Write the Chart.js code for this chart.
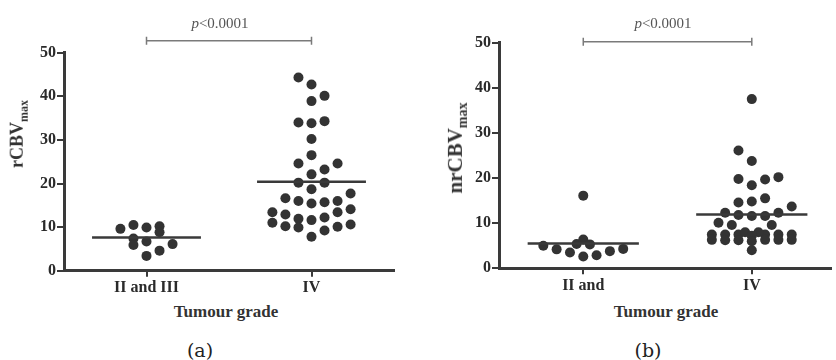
<!DOCTYPE html>
<html>
<head>
<meta charset="utf-8">
<script src="https://cdn.jsdelivr.net/npm/chart.js@4.4.1/dist/chart.umd.min.js"></script>
<style>
  body { margin: 0; background: #fff; width: 836px; height: 360px; overflow: hidden; position: relative; font-family: "Liberation Serif", serif; }
  .panel { position: absolute; top: 0; }
  .lbl { position: absolute; white-space: nowrap; transform: translate(-50%, -50%); color: #333; }
  .ytitle { font-weight: bold; font-size: 18px; transform: translate(-50%, -50%) rotate(-90deg); }
  .ytitle sub { font-size: 12px; }
  .xtitle { font-weight: bold; font-size: 17px; }
  .pval { font-size: 15px; color: #555; }
  .cap { font-family: "DejaVu Serif", serif; font-size: 19px; color: #222; }
</style>
</head>
<body>
<div class="panel" style="left:0"><canvas id="chartA" width="418" height="300"></canvas></div>
<div class="panel" style="left:420px"><canvas id="chartB" width="416" height="300"></canvas></div>

<div class="lbl ytitle" style="left:19px;top:134px">rCBV<sub>max</sub></div>
<div class="lbl ytitle" style="left:457px;top:148px;font-size:21px">nrCBV<sub style="font-size:14px">max</sub></div>
<div class="lbl pval" style="left:220px;top:23px"><i>p</i>&lt;0.0001</div>
<div class="lbl pval" style="left:663px;top:23px"><i>p</i>&lt;0.0001</div>
<div class="lbl xtitle" style="left:226px;top:312px">Tumour grade</div>
<div class="lbl xtitle" style="left:666px;top:312px">Tumour grade</div>
<div class="lbl cap" style="left:200px;top:350px">(a)</div>
<div class="lbl cap" style="left:648px;top:350px">(b)</div>

<script>
// values; *Col = swarm column of each dot
const gradesA = ["II and III", "IV"];
const gradesB = ["II and", "IV"];
const yTicks = [0, 10, 20, 30, 40, 50];

const rcbvLow = [9.6, 10.5, 9.9, 10.2, 8.8, 7.4, 5.9, 6.7, 6.1, 3.4, 4.6];
const rcbvLowCol = [-2, -1, 0, 1, 1, -1, -1, 0, 2, 0, 1];
const rcbvHigh = [44.3, 42.7, 40.1, 38.9, 34.0, 33.8, 34.3, 30.2, 26.5, 24.6, 24.6, 23.2,
    22.1, 20.2, 20.2, 18.7, 16.6, 16.0, 15.4, 15.7, 16.0, 17.7, 13.4, 12.9,
    11.9, 11.6, 12.2, 13.4, 14.1, 11.0, 10.2, 9.9, 7.8, 9.2, 10.1, 10.6];
const rcbvHighCol = [-1, 0, 1, 0, -1, 0, 1, 0, 0, -1, 2, 1,
    0, -1, 1, 0, -2, -1, 0, 1, 2, 3, -3, -2,
    -1, 0, 1, 2, 3, -3, -2, -1, 0, 1, 2, 3];
const rcbvMeans = [7.6, 20.4];

const nrcbvLow = [5.0, 4.2, 3.5, 2.6, 2.9, 3.8, 4.3, 5.4, 6.4, 5.3, 16.1];
const nrcbvLowCol = [-3, -2, -1, 0, 1, 2, 3, -0.5, 0, 0.5, 0];
const nrcbvHigh = [37.5, 26.1, 23.8, 19.8, 18.4, 19.7, 20.2, 14.6, 14.8, 15.5, 13.7, 12.3,
    11.8, 11.6, 11.6, 12.3, 10.1, 9.6, 9.6, 7.5, 6.3, 7.5, 6.2, 7.5,
    6.2, 7.5, 6.3, 7.5, 6.3, 7.5, 6.3, 8.0, 8.0, 7.2, 6.0, 4.0];
const nrcbvHighCol = [0, -1, 0, -1, 0, 1, 2, -1, 0, 1, 3, -2,
    -1, 0, 1, 2, -2.5, -1.5, 1.5, -3, -3, -2, -2, -1,
    -1, 1, 1, 2, 2, 3, 3, -0.5, 0.5, 0, 0, 0];
const nrcbvMeans = [5.5, 11.9];

const DOT = "#333";
const AXIS = "#3a3a3a";
const SLOT = 0.079;
const HALF = 0.33;
const tickFont = { family: "'Liberation Serif', serif", weight: "bold", size: 16 };

const bracketPlugin = {
    id: "bracket",
    afterDatasetsDraw(chart, args, opts) {
        const { ctx, scales: { x, y } } = chart;
        const x1 = x.getPixelForValue(1);
        const x2 = x.getPixelForValue(2);
        const yy = y.getPixelForValue(opts.level);
        ctx.save();
        ctx.strokeStyle = "#7a7a7a";
        ctx.lineWidth = 1.5;
        ctx.beginPath();
        ctx.moveTo(x1, yy); ctx.lineTo(x2, yy);
        ctx.moveTo(x1, yy - 4); ctx.lineTo(x1, yy + 4);
        ctx.moveTo(x2, yy - 4); ctx.lineTo(x2, yy + 4);
        ctx.stroke();
        ctx.restore();
    }
};

const swarm = (vals, cols, cat) => vals.map((v, i) => ({ x: cat + cols[i] * SLOT, y: v }));
const meanLine = (m, cat) => [{ x: cat - HALF, y: m }, { x: cat + HALF, y: m }];

function makePanel(id, grades, low, lowCol, high, highCol, means, p) {
    const dots = { pointRadius: 5, backgroundColor: DOT, borderWidth: 0 };
    const line = { type: "line", borderColor: "#3a3a3a", borderWidth: 2.5, pointRadius: 0, fill: false };
    new Chart(document.getElementById(id), {
        type: "scatter",
        data: {
            datasets: [
                { ...line, data: meanLine(means[0], 1) },
                { ...line, data: meanLine(means[1], 2) },
                { ...dots, data: swarm(low, lowCol, 1) },
                { ...dots, data: swarm(high, highCol, 2) }
            ]
        },
        options: {
            responsive: false,
            animation: false,
            events: [],
            layout: { padding: { top: p.top, left: 0, right: p.right, bottom: 0 } },
            plugins: {
                legend: { display: false },
                tooltip: { enabled: false },
                bracket: { level: p.bracket }
            },
            scales: {
                x: {
                    type: "linear",
                    min: 0.5,
                    max: p.xMax,
                    afterBuildTicks: s => { s.ticks = [1, 2].map(v => ({ value: v })); },
                    ticks: { callback: v => grades[v - 1], font: tickFont, color: "#2a2a2a", padding: 2, maxRotation: 0, autoSkip: false },
                    grid: { drawOnChartArea: false, drawTicks: true, tickLength: 6, color: AXIS, lineWidth: 2 },
                    border: { color: AXIS, width: 3 },
                    afterFit: s => { s.height = p.xh; }
                },
                y: {
                    min: 0,
                    max: 50,
                    afterBuildTicks: s => { s.ticks = yTicks.map(v => ({ value: v })); },
                    ticks: { font: tickFont, color: "#2a2a2a", padding: 1 },
                    grid: { drawOnChartArea: false, drawTicks: true, tickLength: 7, color: AXIS, lineWidth: 2 },
                    border: { color: AXIS, width: 3 },
                    afterFit: s => { s.width = p.yw; }
                }
            }
        },
        plugins: [bracketPlugin]
    });
}

makePanel("chartA", gradesA, rcbvLow, rcbvLowCol, rcbvHigh, rcbvHighCol, rcbvMeans,
    { top: 52.7, right: 24, xh: 29.3, yw: 64, xMax: 2.5, bracket: 52.75 });
makePanel("chartB", gradesB, nrcbvLow, nrcbvLowCol, nrcbvHigh, nrcbvHighCol, nrcbvMeans,
    { top: 42.7, right: 0, xh: 31.7, yw: 79, xMax: 2.47, bracket: 50.2 });
</script>
</body>
</html>
